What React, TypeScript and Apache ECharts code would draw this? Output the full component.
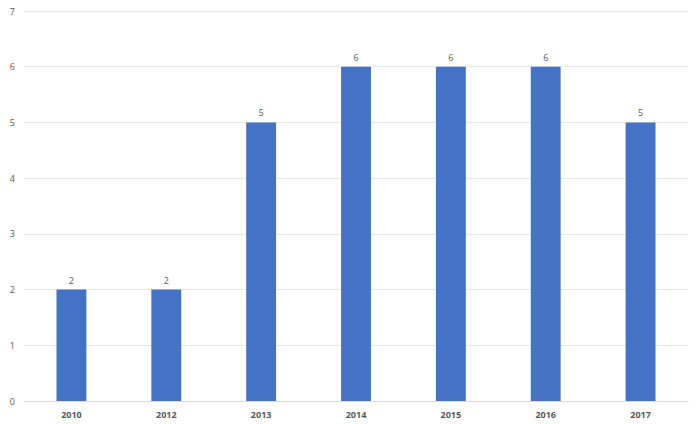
import React, { useEffect, useRef } from "react";
import * as echarts from "echarts";

const categories = ["2010", "2012", "2013", "2014", "2015", "2016", "2017"];
const values = [2, 2, 5, 6, 6, 6, 5];
const yTicks = { min: 0, max: 7, interval: 1 };

export default function App() {
  const ref = useRef<HTMLDivElement>(null);
  useEffect(() => {
    const chart = echarts.init(ref.current!, null, { renderer: "svg" });
    chart.setOption({
      animation: false,
      grid: { left: 24, right: 12, top: 11, bottom: 23, containLabel: false },
      xAxis: {
        type: "category",
        data: categories,
        axisLine: { show: true, lineStyle: { color: "#d9d9d9" } },
        axisTick: { show: false },
        axisLabel: {
          color: "#595959",
          fontWeight: "bold",
          fontSize: 9,
          fontFamily: "Open Sans, sans-serif",
          margin: 9,
        },
      },
      yAxis: {
        type: "value",
        min: yTicks.min,
        max: yTicks.max,
        interval: yTicks.interval,
        axisLine: { show: false },
        axisTick: { show: false },
        splitLine: { lineStyle: { color: "#e6e6e6" } },
        axisLabel: {
          color: "#595959",
          fontSize: 9,
          fontFamily: "Open Sans, sans-serif",
          margin: 9,
        },
      },
      series: [
        {
          type: "bar",
          data: values,
          barWidth: "31.5%",
          itemStyle: { color: "#4472C4" },
          label: {
            show: true,
            position: "top",
            color: "#595959",
            fontSize: 9,
            fontFamily: "Open Sans, sans-serif",
            distance: 5,
          },
        },
      ],
    });
    return () => chart.dispose();
  }, []);
  return <div ref={ref} style={{ width: 700, height: 424, position: "absolute", left: 0, top: 0 }} />;
}
